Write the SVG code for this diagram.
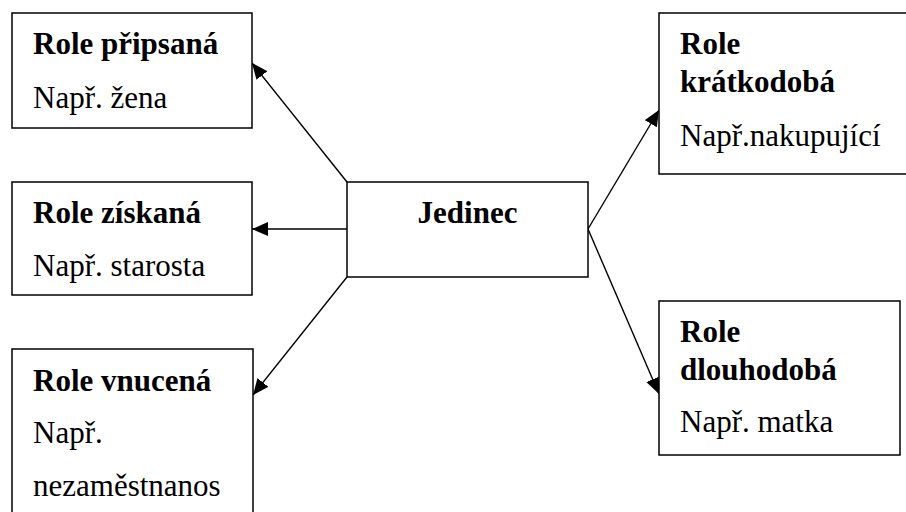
<svg xmlns="http://www.w3.org/2000/svg" width="906" height="512" viewBox="0 0 906 512">
<style>
.box{fill:#fff;stroke:#000;stroke-width:1.5}
.b{font-family:"Liberation Serif","Times New Roman",serif;font-weight:bold;font-size:31px;fill:#000}
.r{font-family:"Liberation Serif","Times New Roman",serif;font-size:31px;fill:#000}
.con{stroke:#000;stroke-width:1.4;fill:none;marker-end:url(#ah)}
</style>
<defs>
<marker id="ah" markerUnits="userSpaceOnUse" markerWidth="17" markerHeight="15" refX="16" refY="7" orient="auto">
<path d="M0,0 L16,7 L0,14 z" fill="#000"/>
</marker>
</defs>
<rect width="906" height="512" fill="#fff"/>
<g id="connectors">
<line class="con" x1="347" y1="182" x2="252" y2="63"/>
<line class="con" x1="347" y1="229" x2="252" y2="229"/>
<line class="con" x1="347" y1="277" x2="253" y2="395"/>
<line class="con" x1="588" y1="229" x2="659" y2="110"/>
<line class="con" x1="588" y1="229" x2="659" y2="394"/>
</g>
<g id="role-pripsana">
<rect class="box" x="12" y="13" width="240" height="115"/>
<text class="b" x="33" y="54">Role připsaná</text>
<text class="r" x="33" y="107.5">Např. žena</text>
</g>
<g id="role-ziskana">
<rect class="box" x="12" y="182" width="240" height="113"/>
<text class="b" x="33" y="222.5">Role získaná</text>
<text class="r" x="33" y="276">Např. starosta</text>
</g>
<g id="role-vnucena">
<rect class="box" x="12" y="349" width="241" height="200"/>
<text class="b" x="33" y="391">Role vnucená</text>
<text class="r" x="33" y="443">Např.</text>
<text class="r" x="33" y="495.5">nezaměstnanos</text>
</g>
<g id="jedinec">
<rect class="box" x="347" y="182" width="241" height="95"/>
<text class="b" x="467.5" y="222.5" text-anchor="middle">Jedinec</text>
</g>
<g id="role-kratkodoba">
<rect class="box" x="659" y="13" width="260" height="161"/>
<text class="b" x="680" y="54">Role</text>
<text class="b" x="680" y="91.5">krátkodobá</text>
<text class="r" x="680" y="145.5">Např.nakupující</text>
</g>
<g id="role-dlouhodoba">
<rect class="box" x="659" y="301" width="241" height="154"/>
<text class="b" x="680" y="341.5">Role</text>
<text class="b" x="680" y="380">dlouhodobá</text>
<text class="r" x="680" y="431.5">Např. matka</text>
</g>
</svg>
